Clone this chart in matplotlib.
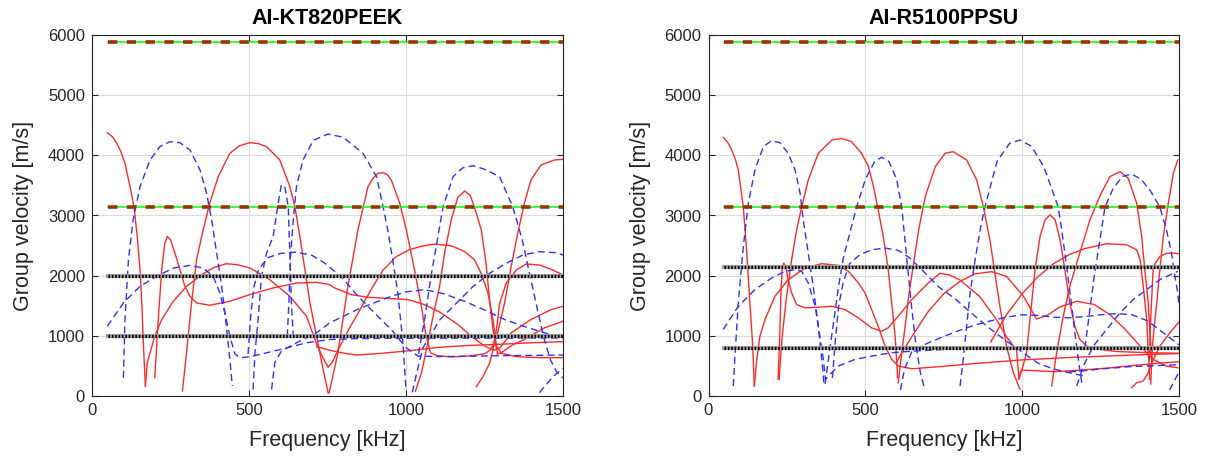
import matplotlib
matplotlib.use("Agg")
import matplotlib.pyplot as plt

plt.rcParams['font.family'] = ['Liberation Sans', 'DejaVu Sans']

# ---------------- data: AI-KT820PEEK ----------------
titles = ["AI-KT820PEEK", "AI-R5100PPSU"]
x_ticks = [0, 500, 1000, 1500]
y_ticks = [0, 1000, 2000, 3000, 4000, 5000, 6000]
line_f = [50, 1500]
kt_green_levels = [5880, 3140]
kt_black_levels = [2000, 1000]
pp_green_levels = [5880, 3140]
pp_black_levels = [2140, 795]

kt_r1_f = [49, 65, 79, 92, 105, 121, 134, 144, 153, 159, 164, 170]
kt_r1_v = [4376, 4310, 4199, 4060, 3868, 3481, 3138, 2652, 2100, 1492, 829, 166]
kt_r2_f = [170, 176, 185, 200, 222, 259, 301, 354, 390, 428, 465, 503, 566, 630, 683, 715, 735, 752, 765, 789, 820, 853, 890, 927, 969, 1010, 1050, 1091, 1144, 1186, 1218, 1239, 1261, 1277, 1288, 1304, 1352, 1426, 1500]
kt_r2_v = [166, 552, 718, 995, 1271, 1575, 1823, 2033, 2140, 2199, 2180, 2127, 1934, 1657, 1326, 870, 640, 477, 560, 820, 1130, 1429, 1780, 2094, 2316, 2430, 2490, 2525, 2497, 2403, 2265, 2044, 1713, 1271, 829, 709, 654, 637, 637]
kt_r3_f = [200, 211, 222, 232, 240, 250, 264, 280, 296, 312, 333, 375, 439, 503, 577, 651, 715, 757, 773, 826, 879, 953, 1006, 1059, 1112, 1165, 1208, 1250, 1280, 1300, 1335, 1398, 1462, 1500]
kt_r3_v = [304, 1271, 2100, 2541, 2652, 2597, 2376, 2100, 1823, 1657, 1547, 1508, 1575, 1685, 1796, 1878, 1890, 1851, 1796, 1685, 1641, 1619, 1602, 1519, 1381, 1188, 995, 829, 760, 800, 1050, 1271, 1436, 1492]
kt_r4_f = [288, 301, 317, 333, 354, 375, 402, 439, 470, 503, 530, 556, 598, 630, 646, 662, 678, 694, 715, 736, 752]
kt_r4_v = [83, 718, 1547, 2265, 2762, 3205, 3647, 4033, 4160, 4210, 4195, 4144, 3923, 3481, 3149, 2652, 2100, 1547, 995, 442, 55]
kt_r5_f = [755, 770, 783, 800, 815, 847, 879, 895, 911, 927, 940, 953, 980, 1001, 1027, 1049, 1064, 1078, 1100, 1144, 1200, 1250, 1271, 1292, 1314, 1335, 1356, 1377, 1398, 1430, 1473, 1500]
kt_r5_v = [50, 400, 718, 1300, 1823, 2762, 3481, 3620, 3702, 3713, 3680, 3591, 3205, 2762, 2100, 1492, 995, 718, 670, 650, 665, 700, 773, 1050, 1547, 2155, 2707, 3205, 3591, 3840, 3923, 3934]
kt_r6_f = [1030, 1050, 1070, 1089, 1107, 1123, 1144, 1165, 1187, 1205, 1220, 1240, 1255, 1268, 1280, 1292]
kt_r6_v = [80, 400, 900, 1400, 1823, 2376, 2928, 3300, 3407, 3330, 3100, 2759, 2200, 1500, 1000, 700]
kt_r7_f = [1224, 1245, 1266, 1277, 1288, 1298, 1319, 1351, 1383, 1425, 1468, 1500]
kt_r7_v = [155, 321, 543, 765, 1100, 1540, 1873, 2094, 2194, 2177, 2094, 2011]
kt_r8_f = [715, 750, 778, 810, 842, 900, 980, 1050, 1107, 1200, 1300, 1400, 1500]
kt_r8_v = [820, 770, 737, 705, 681, 700, 737, 775, 810, 840, 860, 885, 903]
kt_r9_f = [1290, 1303, 1340, 1377, 1441, 1500]
kt_r9_v = [700, 718, 850, 939, 1133, 1243]

kt_b1_f = [49, 100, 153, 206, 259, 312, 354, 386, 407, 423, 439, 455, 471, 503, 556, 609, 683, 757, 850, 1000, 1200, 1500]
kt_b1_v = [1160, 1547, 1823, 1989, 2127, 2171, 2127, 1989, 1713, 1381, 995, 700, 635, 652, 718, 785, 884, 939, 955, 960, 962, 965]
kt_b2_f = [100, 105, 116, 131, 153, 185, 216, 248, 280, 312, 344, 365, 381, 397, 413, 428, 439, 447]
kt_b2_v = [304, 1271, 2265, 2928, 3481, 3923, 4144, 4227, 4210, 4089, 3757, 3370, 2928, 2376, 1823, 1160, 608, 166]
kt_b3_f = [513, 519, 529, 540, 556, 577, 593, 603, 614, 625, 630, 635, 641]
kt_b3_v = [110, 718, 1271, 1989, 2376, 2652, 3205, 3508, 3481, 3149, 2376, 1547, 995]
kt_b4_f = [622, 627, 632, 641, 651, 672, 705, 752, 800, 863, 906, 927, 942, 958, 974, 990, 1000]
kt_b4_v = [995, 1547, 2300, 2928, 3478, 3922, 4250, 4354, 4300, 4034, 3645, 3146, 2762, 2250, 1713, 900, 100]
kt_b5_f = [497, 505, 515, 530, 560, 600, 650, 700, 741, 800, 847, 900, 953, 1001, 1038, 1100, 1200, 1300, 1400, 1500]
kt_b5_v = [700, 1300, 1800, 2100, 2300, 2370, 2390, 2340, 2210, 1950, 1657, 1380, 1105, 800, 663, 655, 660, 670, 675, 681]
kt_b6_f = [572, 582, 603, 651, 715, 757, 850, 953, 1000, 1059, 1120, 1186, 1250, 1314, 1380, 1441, 1497]
kt_b6_v = [110, 553, 746, 884, 1050, 1215, 1450, 1657, 1730, 1768, 1700, 1575, 1430, 1271, 1150, 1050, 967]
kt_b7_f = [1020, 1035, 1054, 1107, 1160, 1213, 1266, 1319, 1372, 1425, 1478, 1500]
kt_b7_v = [60, 400, 800, 1263, 1540, 1817, 2039, 2205, 2343, 2399, 2382, 2343]
kt_b8_f = [1040, 1060, 1080, 1100, 1118, 1150, 1180, 1213, 1250, 1298, 1340, 1370, 1395, 1420, 1440, 1460, 1480, 1500]
kt_b8_v = [700, 1300, 2000, 2600, 3146, 3645, 3790, 3828, 3770, 3645, 3146, 2600, 2000, 1400, 950, 600, 400, 300]
kt_b9_f = [1425, 1445, 1468, 1485, 1500]
kt_b9_v = [55, 180, 321, 400, 460]

# ---------------- data: AI-R5100PPSU ----------------
pp_r1_f = [47, 62, 74, 86, 95, 111, 122, 132, 141, 146]
pp_r1_v = [4298, 4210, 4089, 3930, 3757, 3138, 2376, 1547, 829, 166]
pp_r2_f = [146, 154, 164, 180, 212, 254, 308, 361, 414, 446, 478, 499, 520, 541, 563, 584, 605, 648, 733, 850, 1000, 1150, 1300, 1400, 1500]
pp_r2_v = [166, 608, 995, 1271, 1657, 1934, 2127, 2199, 2171, 2072, 1879, 1713, 1437, 1160, 829, 608, 497, 453, 486, 540, 600, 640, 670, 690, 705]
pp_r3_f = [222, 227, 231, 235, 240, 246, 254, 265, 281, 308, 350, 393, 435, 478, 520, 552, 573, 605, 648, 701, 738, 770, 802, 865, 919, 950, 982, 990]
pp_r3_v = [276, 995, 1713, 2127, 2210, 2155, 1934, 1713, 1519, 1464, 1475, 1492, 1437, 1298, 1133, 1077, 1133, 1326, 1602, 1879, 2039, 2010, 1928, 1651, 1263, 986, 765, 280]
pp_r4_f = [225, 235, 249, 265, 281, 297, 318, 350, 393, 424, 456, 488, 510, 526, 541, 557, 573, 584, 595, 603]
pp_r4_v = [276, 995, 1657, 2265, 2762, 3138, 3591, 4033, 4254, 4282, 4227, 4033, 3812, 3481, 3094, 2652, 2100, 1547, 995, 300]
pp_r5_f = [605, 616, 627, 638, 654, 670, 691, 723, 754, 780, 823, 855, 876, 897, 913, 929, 950, 972, 993]
pp_r5_v = [221, 718, 1160, 1657, 2210, 2762, 3315, 3812, 4033, 4061, 3923, 3591, 3149, 2597, 2044, 1492, 829, 387, 110]
pp_r6_f = [990, 1000, 1014, 1025, 1041, 1057, 1073, 1089, 1105, 1121, 1136, 1152, 1168, 1184, 1206, 1248, 1300, 1400, 1500]
pp_r6_v = [280, 450, 718, 1271, 2100, 2652, 2928, 3011, 2928, 2597, 2100, 1547, 1160, 939, 829, 774, 740, 720, 710]
pp_r7_f = [900, 950, 1000, 1050, 1100, 1150, 1200, 1269, 1333, 1365, 1376, 1386, 1397, 1402, 1407]
pp_r7_v = [900, 1350, 1700, 1980, 2200, 2350, 2450, 2530, 2514, 2431, 2265, 1823, 1271, 718, 276]
pp_r8_f = [600, 620, 650, 700, 750, 800, 850, 903, 950, 1004, 1046, 1080, 1120, 1174, 1230, 1280, 1330, 1376, 1418, 1460, 1496]
pp_r8_v = [571, 750, 1000, 1400, 1700, 1900, 2030, 2066, 1989, 1657, 1280, 1340, 1480, 1575, 1520, 1350, 1100, 829, 608, 497, 470]
pp_r9_f = [1094, 1110, 1130, 1152, 1185, 1216, 1250, 1280, 1312, 1338, 1365, 1381, 1391, 1402, 1413]
pp_r9_v = [166, 718, 1300, 1823, 2400, 2928, 3350, 3647, 3729, 3619, 3205, 2652, 2100, 1547, 553]
pp_r10_f = [1410, 1413, 1418, 1429, 1439, 1450, 1466, 1482, 1496]
pp_r10_v = [200, 608, 995, 1547, 2100, 2652, 3205, 3702, 3923]
pp_r11_f = [1405, 1410, 1418, 1439, 1460, 1482, 1500]
pp_r11_v = [600, 1300, 2155, 2320, 2370, 2376, 2365]
pp_r12_f = [1349, 1365, 1386, 1402, 1418, 1439, 1471, 1500]
pp_r12_v = [138, 221, 249, 387, 608, 829, 1050, 1230]
pp_r13_f = [990, 998, 1105, 1158, 1264, 1370, 1500]
pp_r13_v = [350, 432, 404, 421, 460, 515, 571]

pp_b1_f = [47, 95, 148, 201, 244, 276, 297, 318, 340, 355, 366, 373, 382, 414, 467, 520, 583, 648, 754, 850, 1000, 1200, 1500]
pp_b1_v = [1105, 1492, 1768, 1961, 2072, 2100, 2072, 1879, 1492, 995, 608, 276, 331, 497, 608, 663, 718, 746, 774, 780, 785, 790, 790]
pp_b2_f = [79, 85, 95, 111, 127, 148, 175, 201, 228, 254, 276, 292, 302, 318, 334, 350, 361, 368]
pp_b2_v = [166, 718, 1547, 2486, 3205, 3757, 4144, 4243, 4210, 4033, 3757, 3370, 2928, 2376, 1823, 1160, 608, 221]
pp_b3_f = [372, 382, 398, 414, 430, 450, 472, 500, 530, 552, 575, 600, 616, 630, 645, 660, 675, 690]
pp_b3_v = [200, 600, 1200, 1800, 2300, 2700, 3138, 3600, 3900, 3967, 3900, 3600, 3138, 2400, 1600, 900, 400, 100]
pp_b4_f = [395, 404, 415, 430, 450, 483, 520, 563, 605, 640, 680, 733, 790, 839, 890, 945, 1000, 1051, 1100, 1158, 1200]
pp_b4_v = [300, 900, 1500, 1900, 2200, 2350, 2430, 2459, 2420, 2300, 2100, 1817, 1600, 1374, 1150, 931, 730, 543, 450, 377, 330]
pp_b5_f = [802, 812, 823, 834, 850, 866, 881, 920, 960, 993, 1030, 1070, 1115, 1126, 1136, 1147, 1158, 1168, 1179, 1190]
pp_b5_v = [166, 608, 1160, 1713, 2265, 2762, 3138, 3900, 4200, 4254, 4150, 3800, 3138, 2762, 2376, 1934, 1492, 1050, 608, 221]
pp_b6_f = [1200, 1215, 1230, 1248, 1264, 1290, 1320, 1349, 1380, 1410, 1439, 1460, 1476, 1487, 1496, 1500]
pp_b6_v = [800, 1400, 2000, 2600, 3138, 3450, 3650, 3689, 3600, 3400, 3138, 2762, 2376, 1989, 1713, 1500]
pp_b7_f = [1174, 1195, 1227, 1269, 1312, 1354, 1397, 1439, 1496]
pp_b7_v = [166, 497, 829, 1105, 1381, 1602, 1768, 1934, 2072]
pp_b8_f = [612, 625, 650, 700, 750, 800, 850, 900, 950, 1000, 1050, 1100, 1150, 1200, 1250, 1300, 1350, 1400, 1450, 1500]
pp_b8_v = [100, 450, 760, 880, 990, 1090, 1180, 1250, 1310, 1350, 1340, 1310, 1300, 1320, 1350, 1370, 1350, 1250, 1050, 850]
pp_b9_f = [1150, 1200, 1250, 1300, 1350, 1400, 1450, 1500]
pp_b9_v = [400, 420, 450, 470, 490, 500, 510, 520]
pp_b10_f = [1470, 1485, 1500]
pp_b10_v = [100, 250, 400]

kt_red = [(kt_r1_f, kt_r1_v), (kt_r2_f, kt_r2_v), (kt_r3_f, kt_r3_v), (kt_r4_f, kt_r4_v),
          (kt_r5_f, kt_r5_v), (kt_r6_f, kt_r6_v), (kt_r7_f, kt_r7_v), (kt_r8_f, kt_r8_v),
          (kt_r9_f, kt_r9_v)]
kt_blue = [(kt_b1_f, kt_b1_v), (kt_b2_f, kt_b2_v), (kt_b3_f, kt_b3_v), (kt_b4_f, kt_b4_v),
           (kt_b5_f, kt_b5_v), (kt_b6_f, kt_b6_v), (kt_b7_f, kt_b7_v), (kt_b8_f, kt_b8_v),
           (kt_b9_f, kt_b9_v)]
pp_red = [(pp_r1_f, pp_r1_v), (pp_r2_f, pp_r2_v), (pp_r3_f, pp_r3_v), (pp_r4_f, pp_r4_v),
          (pp_r5_f, pp_r5_v), (pp_r6_f, pp_r6_v), (pp_r7_f, pp_r7_v), (pp_r8_f, pp_r8_v),
          (pp_r9_f, pp_r9_v), (pp_r10_f, pp_r10_v), (pp_r11_f, pp_r11_v), (pp_r12_f, pp_r12_v),
          (pp_r13_f, pp_r13_v)]
pp_blue = [(pp_b1_f, pp_b1_v), (pp_b2_f, pp_b2_v), (pp_b3_f, pp_b3_v), (pp_b4_f, pp_b4_v),
           (pp_b5_f, pp_b5_v), (pp_b6_f, pp_b6_v), (pp_b7_f, pp_b7_v), (pp_b8_f, pp_b8_v),
           (pp_b9_f, pp_b9_v), (pp_b10_f, pp_b10_v)]

panels = [
    (titles[0], kt_red, kt_blue, kt_green_levels, kt_black_levels),
    (titles[1], pp_red, pp_blue, pp_green_levels, pp_black_levels),
]

W, H = 1207, 465
fig = plt.figure(figsize=(W / 100, H / 100), dpi=100)
ax_rects = [
    [92 / W, (H - 396) / H, 471 / W, 361 / H],
    [708.5 / W, (H - 396) / H, 470.5 / W, 361 / H],
]

for rect, (title, reds, blues, greens, blacks) in zip(ax_rects, panels):
    ax = fig.add_axes(rect)
    for f, v in reds:
        ax.plot(f, v, color='#ff2a2a', lw=1.0, solid_joinstyle='round', zorder=3)
    for f, v in blues:
        ax.plot(f, v, color='#3030ff', lw=1.0, dashes=(5, 3), zorder=3)
    for lvl in greens:
        ax.plot(line_f, [lvl, lvl], color='#00ff00', lw=1.1, zorder=4)
        ax.plot(line_f, [lvl, lvl], color='#993300', lw=2.6, dashes=(2.6, 2.6), zorder=5)
    for lvl in blacks:
        ax.plot(line_f, [lvl, lvl], color='#a0a0a0', lw=3.0, zorder=5)
        ax.plot(line_f, [lvl, lvl], color='black', lw=2.3, dashes=(0.5, 0.55), zorder=6)
    ax.set_xlim(0, 1500)
    ax.set_ylim(0, 6000)
    ax.set_xticks(x_ticks)
    ax.set_yticks(y_ticks)
    ax.grid(True, color='#dcdcdc', lw=0.8)
    ax.set_axisbelow(True)
    ax.tick_params(direction='in', length=4, width=0.8, top=True, right=True,
                   labelsize=12, colors='#262626', pad=5)
    for s in ax.spines.values():
        s.set_color('#262626')
        s.set_linewidth(0.8)
    ax.set_title(title, fontsize=15.5, fontweight='bold', pad=8)
    ax.set_xlabel('Frequency [kHz]', fontsize=15.5, color='#262626', labelpad=9)
    ax.set_ylabel('Group velocity [m/s]', fontsize=15.5, color='#262626', labelpad=10)

fig.savefig('out.png', dpi=100)
